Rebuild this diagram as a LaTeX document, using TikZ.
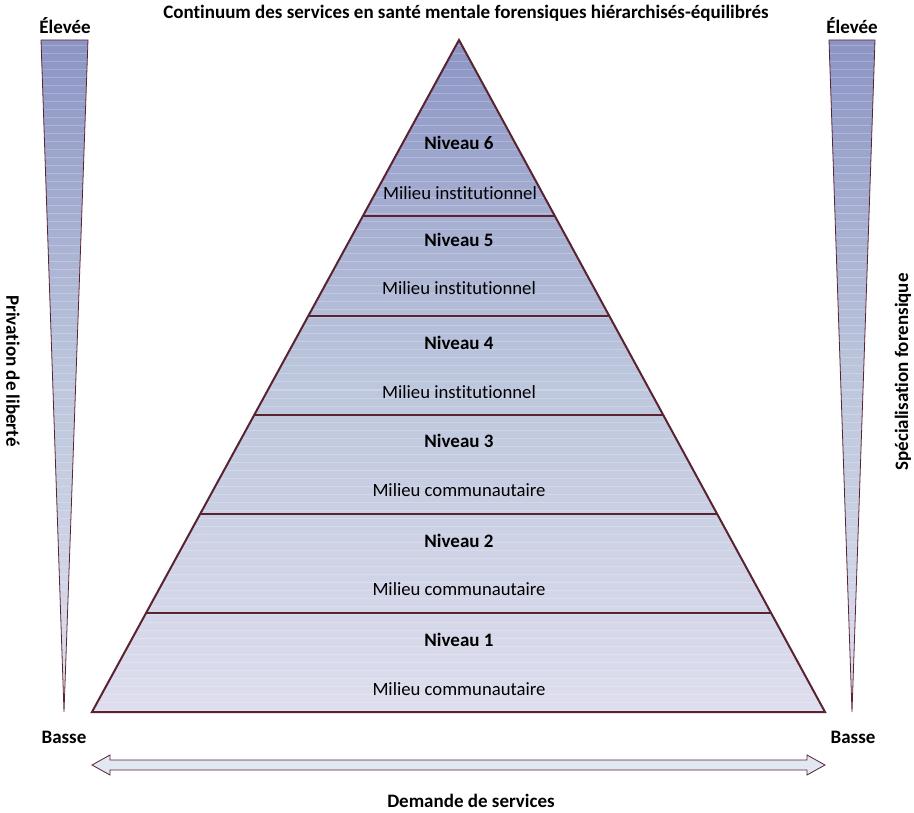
\documentclass[tikz,border=0pt]{standalone}
\usepackage{fontspec}
\setmainfont{Carlito}[Ligatures=NoCommon]
\begin{document}
\begin{tikzpicture}[x=1pt,y=-1pt,
  lbl/.style={font=\fontsize{18.7}{21}\selectfont, text=black, inner sep=0pt},
  blbl/.style={font=\fontsize{19}{21}\selectfont\bfseries, text=black, inner sep=0pt},
  stripe/.style={white, opacity=0.22, line width=1pt}
]
\definecolor{pyrline}{RGB}{90,35,50}
\definecolor{ctop}{RGB}{140,148,196}
\definecolor{cmid}{RGB}{188,198,220}
\definecolor{cbot}{RGB}{222,222,238}
\definecolor{arrfill}{RGB}{226,232,242}
\useasboundingbox (0,0) rectangle (914,813);
% pyramid
\coordinate (apex) at (459,40);
\coordinate (bl) at (92,712);
\coordinate (br) at (825,712);
\begin{scope}
  \clip (apex) -- (br) -- (bl) -- cycle;
  \shade[top color=ctop, bottom color=cbot, middle color=cmid] (80,40) rectangle (840,712);
  \foreach \yy in {46,54,...,712} \draw[stripe] (80,\yy) -- (840,\yy);
\end{scope}
% dividers
\foreach \yy in {216,316,415,514,613} {
  \pgfmathsetmacro{\dx}{(\yy-40)/672*367}
  \draw[pyrline, line width=1.3pt] (459-\dx,\yy) -- (459+\dx,\yy);
}
\draw[pyrline, line width=2pt, line join=miter] (apex) -- (br) -- (bl) -- cycle;
% level labels
\node[blbl] (n6) at (459,143) {Niveau 6};
\node[lbl]  (m6) at (460,193) {Milieu institutionnel};
\node[blbl] (n5) at (459,240) {Niveau 5};
\node[lbl]  (m5) at (459,288) {Milieu institutionnel};
\node[blbl] (n4) at (459,343) {Niveau 4};
\node[lbl]  (m4) at (459,392) {Milieu institutionnel};
\node[blbl] (n3) at (459,441) {Niveau 3};
\node[lbl]  (m3) at (459,490) {Milieu communautaire};
\node[blbl] (n2) at (459,541) {Niveau 2};
\node[lbl]  (m2) at (459,589) {Milieu communautaire};
\node[blbl] (n1) at (459,640) {Niveau 1};
\node[lbl]  (m1) at (459,689) {Milieu communautaire};
% wedges
\foreach \xa/\xb/\xt in {41/88/64, 829/875/852} {
  \begin{scope}
    \clip (\xa,40) -- (\xb,40) -- (\xt,712) -- cycle;
    \shade[top color=ctop, bottom color=cbot, middle color=cmid] (\xa-2,40) rectangle (\xb+2,712);
    \foreach \yy in {46,54,...,712} \draw[stripe] (\xa-2,\yy) -- (\xb+2,\yy);
  \end{scope}
  \draw[pyrline, line width=0.8pt] (\xa,40) -- (\xb,40) -- (\xt,712) -- cycle;
}
% arrow
\draw[pyrline, fill=arrfill, line width=0.8pt]
  (92,765) -- (110,755) -- (110,760) -- (807,760) -- (807,755) -- (825,765)
  -- (807,775) -- (807,770) -- (110,770) -- (110,775) -- cycle;
% texts
\node[font=\fontsize{19}{21}\selectfont\bfseries, inner sep=0pt] (title) at (466,13) {Continuum des services en santé mentale forensiques hiérarchisés-équilibrés};
\node[blbl] (hl) at (65,26) {Élevée};
\node[blbl] (hr) at (852,26) {Élevée};
\node[blbl] (ll) at (64,737) {Basse};
\node[blbl] (lr) at (853,737) {Basse};
\node[blbl] (dem) at (471,801) {Demande de services};
\node[blbl, rotate=-90] (priv) at (13,371) {Privation de liberté};
\node[blbl, rotate=90] (spec) at (903,372) {Spécialisation forensique};
\end{tikzpicture}
\end{document}
